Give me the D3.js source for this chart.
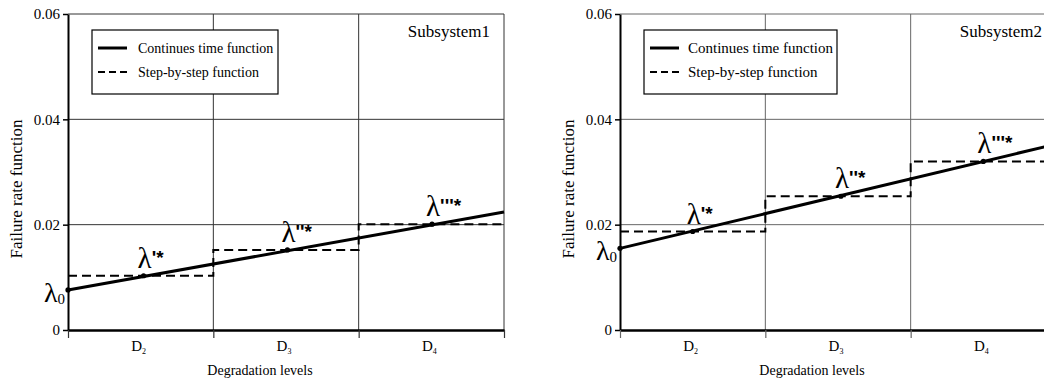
<!DOCTYPE html>
<html>
<head>
<meta charset="utf-8">
<script src="https://cdn.jsdelivr.net/npm/d3@7"></script>
<style>
  body { margin: 0; background: #fff; }
  text { font-family: "Liberation Serif", "Times New Roman", serif; fill: #000; }
  .mark { font-family: "Liberation Sans", Arial, sans-serif; font-weight: bold; }
</style>
</head>
<body>
<svg id="chart" width="1044" height="381"></svg>
<script>
// degradation levels (x bands) and y ticks
const levels = ['D2', 'D3', 'D4'];
const yTicks = [0, 0.02, 0.04, 0.06];
const legendItems = ['Continues time function', 'Step-by-step function'];
const starLabels = ["'*", "''*", "'''*"];

// subsystem 1
const line1 = [0.0076, 0.0224];          // value at start / end of D2..D4
const steps1 = [0.0103, 0.0152, 0.0201];  // step-by-step level per band
const touch1 = [0.52, 1.51, 2.505];       // where the step meets the line

// subsystem 2
const line2 = [0.0155, 0.0353];
const steps2 = [0.0187, 0.0254, 0.0320];
const touch2 = [0.50, 1.52, 2.50];

const svg = d3.select('#chart');

/* one panel; left = x of the y axis, grid = colour of the thin lines */
function drawPanel(left, title, lineVals, steps, touch, grid, legendW, legendFont) {
  const right = left + 436;
  const top = 14, bottom = 330;

  const x = d3.scaleLinear().domain([0, 3]).range([left, right]);
  const y = d3.scaleLinear().domain([0, 0.06]).range([bottom, top]);

  const g = svg.append('g');

  // grid: horizontal + vertical, top/right border included
  g.selectAll('.hgrid')
    .data(yTicks.slice(1))
    .enter().append('line')
    .attr('x1', left).attr('x2', right)
    .attr('y1', d => y(d)).attr('y2', d => y(d))
    .attr('stroke', grid).attr('stroke-width', 1);

  g.selectAll('.vgrid')
    .data([1, 2, 3])
    .enter().append('line')
    .attr('x1', d => x(d)).attr('x2', d => x(d))
    .attr('y1', top).attr('y2', bottom)
    .attr('stroke', grid).attr('stroke-width', 1);

  // y axis
  const yAxis = g.append('g')
    .attr('transform', 'translate(' + left + ',0)')
    .call(d3.axisLeft(y).tickValues(yTicks).tickSize(5).tickSizeOuter(0)
      .tickFormat(d => d === 0 ? '0' : d3.format('.2f')(d)));
  yAxis.select('.domain').attr('stroke-width', 2);
  yAxis.selectAll('.tick line').attr('stroke-width', 1.5);
  yAxis.selectAll('text')
    .attr('x', -8)
    .style('font-family', '"Liberation Serif", serif')
    .style('font-size', '15px');

  // x axis, labels drawn separately as D with subscript
  const xAxis = g.append('g')
    .attr('transform', 'translate(0,' + bottom + ')')
    .call(d3.axisBottom(x).tickValues([0, 1, 2, 3]).tickSize(8).tickSizeOuter(0).tickFormat(''));
  xAxis.select('.domain').attr('stroke-width', 2.5);
  xAxis.selectAll('.tick line').attr('stroke', grid).attr('stroke-width', 1.2);

  const lab = g.selectAll('.lvl')
    .data(levels)
    .enter().append('text')
    .attr('x', (d, i) => x(i + 0.5) - 2)
    .attr('y', 351)
    .attr('text-anchor', 'middle')
    .style('font-size', '15px');
  lab.append('tspan').text(d => d[0]);
  lab.append('tspan').attr('dy', 3).style('font-size', '8px').text(d => d.slice(1));

  g.append('text')
    .attr('x', left + 192).attr('y', 375)
    .attr('text-anchor', 'middle')
    .style('font-size', '14px')
    .text('Degradation levels');

  g.append('text')
    .attr('transform', 'translate(' + (left - 46) + ',189) rotate(-90)')
    .attr('text-anchor', 'middle')
    .style('font-size', '17px')
    .text('Failure rate function');

  // title
  g.append('text')
    .attr('x', right - 14).attr('y', 37)
    .attr('text-anchor', 'end')
    .style('font-size', '17px')
    .text(title);

  // legend
  const lg = g.append('g').attr('transform', 'translate(' + (left + 24) + ',30)');
  lg.append('rect')
    .attr('width', legendW).attr('height', 64)
    .attr('fill', '#fff').attr('stroke', '#000').attr('stroke-width', 1.2);
  lg.selectAll('.ls')
    .data(legendItems)
    .enter().append('line')
    .attr('x1', 6).attr('x2', 35)
    .attr('y1', (d, i) => 18 + i * 24).attr('y2', (d, i) => 18 + i * 24)
    .attr('stroke', '#000')
    .attr('stroke-width', (d, i) => i === 0 ? 3 : 2)
    .attr('stroke-dasharray', (d, i) => i === 0 ? null : '7,4');
  lg.selectAll('.lt')
    .data(legendItems)
    .enter().append('text')
    .attr('x', legendW === 186 ? 46 : 44)
    .attr('y', (d, i) => 23 + i * 24)
    .style('font-size', legendFont + 'px')
    .text(d => d);

  // step-by-step function (dashed, with risers)
  const stepPts = [];
  steps.forEach((s, i) => {
    stepPts.push([i, s]);
    stepPts.push([i + 1, s]);
  });
  g.append('path')
    .datum(stepPts)
    .attr('fill', 'none')
    .attr('stroke', '#000')
    .attr('stroke-width', 2)
    .attr('stroke-dasharray', '9,5')
    .attr('d', d3.line().x(d => x(d[0])).y(d => y(d[1])));

  // continuous time function
  g.append('path')
    .datum([[0, lineVals[0]], [3, lineVals[1]]])
    .attr('fill', 'none')
    .attr('stroke', '#000')
    .attr('stroke-width', 3)
    .attr('d', d3.line().x(d => x(d[0])).y(d => y(d[1])));

  // points
  const pts = [[0, lineVals[0]]].concat(touch.map((t, i) => [t, steps[i]]));
  g.selectAll('.pt')
    .data(pts)
    .enter().append('circle')
    .attr('cx', d => x(d[0])).attr('cy', d => y(d[1]))
    .attr('r', 2.6).attr('fill', '#000');

  // lambda labels
  const l0 = g.append('text')
    .attr('x', left - 3).attr('y', y(lineVals[0]) + 12)
    .attr('text-anchor', 'end')
    .style('font-size', '28px');
  l0.append('tspan').text('λ');
  l0.append('tspan').attr('dy', 2).style('font-size', '15px').text('0');

  const ls = g.selectAll('.star')
    .data(touch)
    .enter().append('text')
    .attr('x', d => x(d) - 6)
    .attr('y', (d, i) => y(steps[i]) - 8)
    .style('font-size', '29px');
  ls.append('tspan').text('λ');
  ls.append('tspan').attr('class', 'mark').attr('dy', -4)
    .style('font-size', '19px').text((d, i) => starLabels[i]);
}

drawPanel(68, 'Subsystem1', line1, steps1, touch1, '#333', 186, 14);
drawPanel(620, 'Subsystem2', line2, steps2, touch2, '#666', 193, 15);
</script>
</body>
</html>
